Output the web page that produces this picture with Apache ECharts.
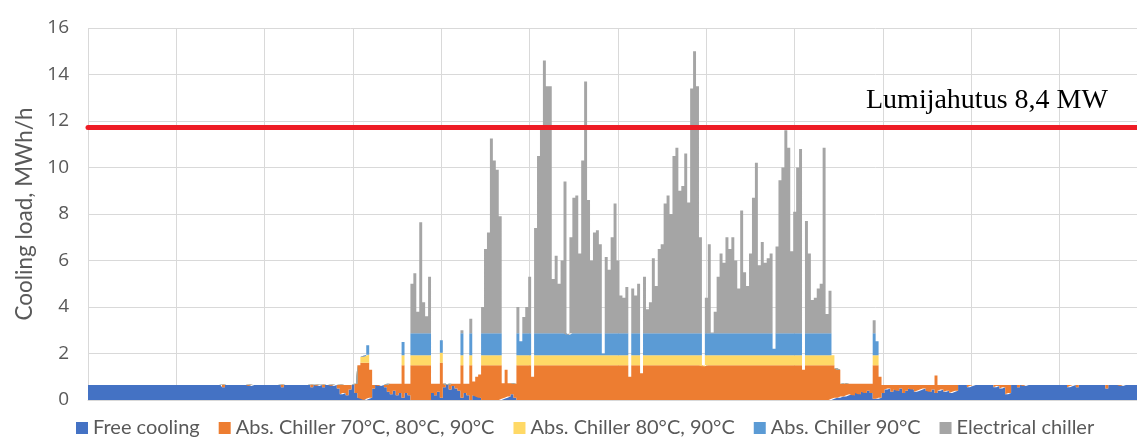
<!DOCTYPE html>
<html><head><meta charset="utf-8">
<script src="https://cdn.jsdelivr.net/npm/echarts@6/dist/echarts.min.js"></script>
<style>html,body{margin:0;padding:0;background:#fff}#c{width:1137px;height:438px}</style>
</head><body><div id="c"></div>
<script>
// Series names (legend)
const seriesNames = ['Free cooling', 'Abs. Chiller 70°C, 80°C, 90°C', 'Abs. Chiller 80°C, 90°C', 'Abs. Chiller 90°C', 'Electrical chiller'];
// Y ticks
const yMin = 0, yMax = 16, yStep = 2;
// Capacity line
const limitValue = 11.72;
const limitLabel = 'Lumijahutus 8,4 MW';

// Stacked layer heights, MWh/h, one value per ~24 h period over the year (361 samples)
const freeCooling = [
.65,.65,.65,.65,.65,.65,.65,.65,.65,.65,
.65,.65,.65,.65,.65,.65,.65,.65,.65,.65,
.65,.65,.65,.65,.65,.65,.65,.65,.65,.65,
.65,.65,.65,.65,.65,.65,.65,.65,.65,.65,
.65,.65,.65,.65,.65,.65,.55,.65,.65,.65,
.65,.65,.65,.65,.65,.6,.65,.65,.65,.65,
.65,.65,.65,.65,.65,.65,.55,.65,.65,.65,
.65,.65,.65,.65,.65,.65,.55,.65,.6,.65,
.55,.65,.65,.6,.65,.5,.25,.3,.2,.45,
.65,.3,.1,.05,0,.05,.1,.5,.65,.6,
.65,.55,.35,.25,.4,.2,.3,.1,.3,.2,
0,0,0,0,0,0,0,.3,.2,.35,
.1,.55,.65,.45,.6,.5,.4,.1,.3,.2,
0,.2,.15,.1,0,0,0,0,0,0,
0,.05,.1,.15,.25,.1,0,0,0,0,
0,0,0,0,0,0,0,0,0,0,
0,0,0,0,0,0,0,0,0,0,
0,0,0,0,0,0,0,0,0,0,
0,0,0,0,0,0,0,0,0,0,
0,0,0,0,0,0,0,0,0,0,
0,0,0,0,0,0,0,0,0,0,
0,0,0,0,0,0,0,0,0,0,
0,0,0,0,0,0,0,0,0,0,
0,0,0,0,0,0,0,0,0,0,
0,0,0,0,0,0,0,0,0,0,
0,0,0,.05,.1,.1,.15,.15,.2,.25,
.2,.3,.25,.35,.3,.4,.3,.05,.05,.1,
.3,.45,.5,.35,.45,.4,.5,.3,.4,.5,
.45,.35,.4,.45,.5,.4,.35,.45,.3,.4,
.45,.35,.4,.3,.35,.4,.65,.65,.65,.55,
.6,.65,.65,.65,.65,.65,.65,.65,.55,.6,
.5,.55,.25,.3,.65,.65,.55,.65,.6,.65,
.65,.65,.65,.65,.65,.65,.65,.65,.65,.65,
.65,.65,.65,.55,.6,.65,.55,.65,.65,.65,
.65,.65,.65,.65,.65,.65,.5,.65,.65,.65,
.65,.6,.65,.65,.65,.65,.65,.65,.65,.65,
.65];

const absChiller70 = [
0,0,0,0,0,0,0,0,0,0,
0,0,0,0,0,0,0,0,0,0,
0,0,0,0,0,0,0,0,0,0,
0,0,0,0,0,0,0,0,0,0,
0,0,0,0,0,0,.12,0,0,0,
0,0,0,0,0,.07,0,0,0,0,
0,0,0,0,0,0,.12,0,0,0,
0,0,0,0,0,0,.12,0,.07,0,
.12,0,0,.07,0,.15,.42,.35,.45,.2,
0,.4,1.4,1.55,1.6,1.55,1.2,.15,0,.05,
0,.1,.35,.45,.3,.5,.4,1.4,.4,.5,
1.5,1.5,1.5,1.5,1.5,1.5,1.5,.4,.5,.35,
1.5,.15,0,.25,.1,.2,.3,1.4,.4,.5,
1.5,.6,.85,1.0,1.5,1.5,1.5,1.5,1.5,1.5,
1.5,.67,1.2,.57,.47,.6,1.5,1.5,1.5,1.5,
1.5,1.0,1.5,1.5,1.5,1.5,1.5,1.5,1.5,1.5,
1.5,1.5,1.5,1.5,1.5,1.5,1.5,1.5,1.5,1.5,
1.5,1.5,1.5,1.5,1.5,1.5,1.5,1.5,1.5,1.5,
1.5,1.5,1.5,1.5,1.0,1.5,1.5,1.5,1.15,1.5,
1.5,1.5,1.5,1.5,1.5,1.5,1.5,1.5,1.5,1.5,
1.5,1.5,1.5,1.5,1.5,1.5,1.5,1.5,1.5,1.45,
1.5,1.5,1.5,1.5,1.5,1.5,1.5,1.5,1.5,1.5,
1.5,1.5,1.5,1.5,1.5,1.5,1.5,1.5,1.5,1.5,
1.5,1.5,1.5,1.5,1.5,1.5,1.5,1.5,1.5,1.5,
1.5,1.5,1.5,1.3,1.5,1.5,1.5,1.5,1.5,1.5,
1.5,1.5,1.5,1.45,1.25,1.2,.55,.57,.5,.45,
.5,.4,.45,.35,.4,.3,.4,1.45,1.45,.9,
.35,.2,.15,.3,.2,.25,.15,.35,.25,.15,
.2,.3,.25,.2,.15,.25,.3,.2,.75,.25,
.2,.3,.25,.35,.3,.25,0,0,0,.1,
.05,0,0,0,0,0,0,0,.1,.05,
.15,.1,.4,.35,0,0,.1,0,.05,0,
0,0,0,0,0,0,0,0,0,0,
0,0,0,.1,.05,0,.1,0,0,0,
0,0,0,0,0,0,.15,0,0,0,
0,.05,0,0,0,0,0,0,0,0,
0];

const absChiller80 = [
0,0,0,0,0,0,0,0,0,0,
0,0,0,0,0,0,0,0,0,0,
0,0,0,0,0,0,0,0,0,0,
0,0,0,0,0,0,0,0,0,0,
0,0,0,0,0,0,0,0,0,0,
0,0,0,0,0,0,0,0,0,0,
0,0,0,0,0,0,0,0,0,0,
0,0,0,0,0,0,0,0,0,0,
0,0,0,0,0,0,0,0,0,0,
0,0,0,.25,.3,.35,0,0,0,0,
0,0,0,0,0,0,0,.43,0,0,
.43,.43,.43,.43,.43,.43,.43,0,0,0,
.43,0,0,0,0,0,0,.43,0,0,
.43,0,0,0,.43,.43,.43,.43,.43,.43,
.43,0,0,0,0,0,.43,.43,.43,.43,
.43,0,.43,.43,.43,.43,.43,.43,.43,.43,
.43,.43,.43,.43,.43,.43,.43,.43,.43,.43,
.43,.43,.43,.43,.43,.43,.43,.43,.43,.43,
.43,.43,.43,.43,0,.43,.43,.43,0,.43,
.43,.43,.43,.43,.43,.43,.43,.43,.43,.43,
.43,.43,.43,.43,.43,.43,.43,.43,.43,0,
.43,.43,.43,.43,.43,.43,.43,.43,.43,.43,
.43,.43,.43,.43,.43,.43,.43,.43,.43,.43,
.43,.43,.43,.43,.43,.43,.43,.43,.43,.43,
.43,.43,.43,0,.43,.43,.43,.43,.43,.43,
.43,.43,.43,.43,0,0,0,0,0,0,
0,0,0,0,0,0,0,.43,.43,0,
0,0,0,0,0,0,0,0,0,0,
0,0,0,0,0,0,0,0,0,0,
0,0,0,0,0,0,0,0,0,0,
0,0,0,0,0,0,0,0,0,0,
0,0,0,0,0,0,0,0,0,0,
0,0,0,0,0,0,0,0,0,0,
0,0,0,0,0,0,0,0,0,0,
0,0,0,0,0,0,0,0,0,0,
0,0,0,0,0,0,0,0,0,0,
0];

const absChiller90 = [
0,0,0,0,0,0,0,0,0,0,
0,0,0,0,0,0,0,0,0,0,
0,0,0,0,0,0,0,0,0,0,
0,0,0,0,0,0,0,0,0,0,
0,0,0,0,0,0,0,0,0,0,
0,0,0,0,0,0,0,0,0,0,
0,0,0,0,0,0,0,0,0,0,
0,0,0,0,0,0,0,0,0,0,
0,0,0,0,0,0,0,0,0,0,
0,0,0,0,0,.4,0,0,0,0,
0,0,0,0,0,0,0,.57,0,0,
.94,.94,.94,.94,.94,.94,.94,0,0,0,
.54,0,0,0,0,0,0,.94,0,0,
.94,0,0,0,.94,.94,.94,.94,.94,.94,
.94,0,0,0,0,0,.94,.6,.94,.94,
.94,0,.94,.94,.94,.94,.94,.94,.94,.94,
.94,.94,.94,.87,.94,.94,.94,.94,.94,.94,
.94,.94,.94,.94,.94,.07,.94,.94,.94,.94,
.94,.94,.94,.94,0,.94,.94,.94,0,.94,
.94,.94,.94,.94,.94,.94,.94,.94,.94,.94,
.94,.94,.94,.94,.94,.94,.94,.94,.94,0,
.94,.94,.94,.94,.94,.94,.94,.94,.94,.94,
.94,.94,.94,.94,.94,.94,.94,.94,.94,.94,
.94,.94,.94,.27,.94,.94,.94,.94,.94,.94,
.94,.94,.94,0,.94,.94,.94,.94,.94,.94,
.94,.94,.94,0,0,0,0,0,0,0,
0,0,0,0,0,0,0,.94,.6,0,
0,0,0,0,0,0,0,0,0,0,
0,0,0,0,0,0,0,0,0,0,
0,0,0,0,0,0,0,0,0,0,
0,0,0,0,0,0,0,0,0,0,
0,0,0,0,0,0,0,0,0,0,
0,0,0,0,0,0,0,0,0,0,
0,0,0,0,0,0,0,0,0,0,
0,0,0,0,0,0,0,0,0,0,
0,0,0,0,0,0,0,0,0,0,
0];

const electricalChiller = [
0,0,0,0,0,0,0,0,0,0,
0,0,0,0,0,0,0,0,0,0,
0,0,0,0,0,0,0,0,0,0,
0,0,0,0,0,0,0,0,0,0,
0,0,0,0,0,0,0,0,0,0,
0,0,0,0,0,0,0,0,0,0,
0,0,0,0,0,0,0,0,0,0,
0,0,0,0,0,0,0,0,0,0,
0,0,0,0,0,0,0,0,0,0,
0,0,0,0,0,0,0,0,0,0,
0,0,0,0,0,0,0,0,0,0,
2.13,2.58,.93,4.78,1.33,.73,2.43,0,0,0,
0,0,0,0,0,0,0,.13,0,0,
.63,0,0,0,1.13,3.63,4.33,8.38,7.43,7.03,
5.03,0,0,0,0,0,1.13,0,.7,1.13,
2.43,0,4.53,7.63,8.83,11.73,10.63,10.63,2.33,3.33,
2.13,3.13,6.53,0,4.13,5.83,5.93,3.43,7.43,10.83,
5.73,3.13,4.33,4.43,3.83,0,3.28,2.73,4.13,5.58,
3.13,1.63,1.53,1.99,0,1.93,1.63,2.13,0,2.43,
1.03,1.33,3.23,2.03,3.63,3.83,5.58,5.93,5.13,7.63,
7.98,6.13,6.33,7.73,5.63,10.53,12.13,10.63,4.13,0,
1.53,3.83,.03,.93,2.43,3.43,3.03,4.13,3.63,4.13,
3.13,1.93,5.28,2.63,2.03,3.43,5.83,7.33,2.93,3.93,
3.03,3.23,3.43,0,3.73,6.58,7.13,8.73,7.98,3.53,
5.23,7.13,7.93,0,4.83,3.43,1.43,1.53,1.93,2.13,
7.98,.83,1.83,0,0,0,0,0,0,0,
0,0,0,0,0,0,0,.56,0,0,
0,0,0,0,0,0,0,0,0,0,
0,0,0,0,0,0,0,0,0,0,
0,0,0,0,0,0,0,0,0,0,
0,0,0,0,0,0,0,0,0,0,
0,0,0,0,0,0,0,0,0,0,
0,0,0,0,0,0,0,0,0,0,
0,0,0,0,0,0,0,0,0,0,
0,0,0,0,0,0,0,0,0,0,
0,0,0,0,0,0,0,0,0,0,
0];

const periods = freeCooling.map((_, i) => i + 1);
const colors = ['#4472C4', '#ED7D31', '#FFD966', '#5B9BD5', '#A5A5A5'];
const layers = [freeCooling, absChiller70, absChiller80, absChiller90, electricalChiller];

const series = layers.map((data, k) => ({
  name: seriesNames[k], type: 'line', stack: 'load', data: data,
  step: 'middle', symbol: 'none', showSymbol: false, silent: true,
  lineStyle: { width: 0 }, itemStyle: { color: colors[k] },
  areaStyle: { color: colors[k], opacity: 1 },
  emphasis: { disabled: true }
}));
series[4].markLine = {
  silent: true, symbol: ['none', 'none'], animation: false,
  data: [{ yAxis: limitValue }],
  lineStyle: { color: '#EE1C25', width: 5, type: 'solid', cap: 'round' },
  label: { show: false }
};

const chart = echarts.init(document.getElementById('c'));
chart.setOption({
  animation: false,
  backgroundColor: '#ffffff',
  grid: { left: 88, top: 28, width: 1060, height: 372, containLabel: false, outerBoundsMode: 'none' },
  legend: {
    data: seriesNames, icon: 'rect', left: 76, top: 418, padding: 0,
    itemWidth: 12, itemHeight: 12, itemGap: 19,
    textStyle: { color: '#595959', fontSize: 20, fontFamily: 'Lato' }
  },
  xAxis: {
    type: 'category', data: periods, boundaryGap: false,
    axisLabel: { show: false }, axisTick: { show: false },
    axisLine: { show: true, lineStyle: { color: '#D9D9D9', width: 1 } },
    splitLine: { show: true, interval: 29, lineStyle: { color: '#D9D9D9', width: 1 } }
  },
  yAxis: {
    type: 'value', min: yMin, max: yMax, interval: yStep,
    name: 'Cooling load, MWh/h', nameLocation: 'middle', nameGap: 52,
    nameTextStyle: { color: '#595959', fontSize: 22.5, fontFamily: 'Lato' },
    axisLabel: { color: '#595959', fontSize: 19, fontFamily: 'Open Sans', margin: 19 },
    axisLine: { show: false }, axisTick: { show: false },
    splitLine: { lineStyle: { color: '#D9D9D9', width: 1 } }
  },
  graphic: [{
    type: 'text', left: 866, top: 87, silent: true, z: 100,
    style: { text: limitLabel, font: '28px "Liberation Serif"', fill: '#000000' }
  }],
  series: series
});
</script>
</body></html>
